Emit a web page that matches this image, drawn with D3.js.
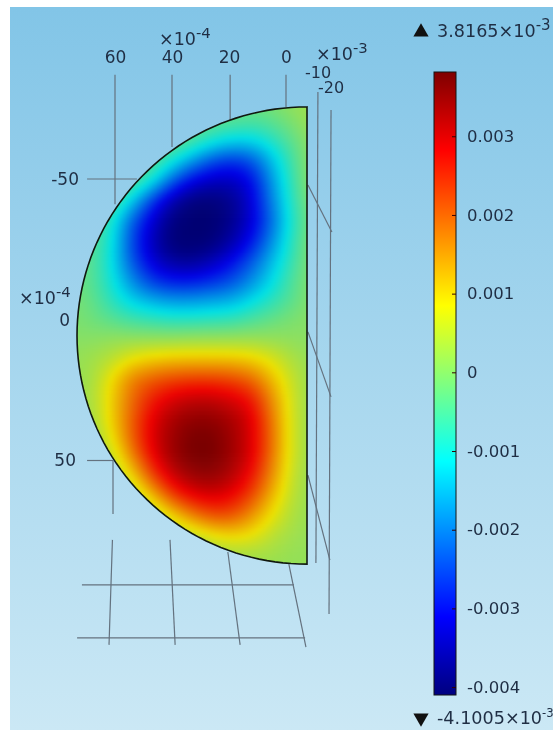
<!DOCTYPE html>
<html>
<head>
<meta charset="utf-8">
<script src="https://cdn.jsdelivr.net/npm/d3@7"></script>
<style>
    html, body { margin: 0; padding: 0; background: #fff; overflow: hidden; }
    text { font-family: "DejaVu Sans", sans-serif; fill: #1f2e44; }
    svg { filter: blur(0.4px); }
</style>
</head>
<body>
<div id="myDataVis"></div>
<script>
const width = 553;
const height = 730;

// axis ticks, x and y are in units of 1e-4, colour bar is the plain value
const xTicks = [60, 40, 20, 0];
const yTicks = [-50, 0, 50];
const zTicks = [-10, -20];
const barTicks = [0.003, 0.002, 0.001, 0, -0.001, -0.002, -0.003, -0.004];
const maxValue = 0.0038165;
const minValue = -0.0041005;

// half disc, centre and radii in axis units
const discX = -7.37;
const discY = 5.6;
const discRx = 80.7;
const discRy = 81.2;

// grid lines of the 3d axis box, in axis units [[x,y],[x,y]]
const gridLines = [
    [[60, -87], [60, -41]],
    [[60.7, 50], [60.7, 69]],
    [[60.9, 78.2], [62.1, 115.5]],
    [[40, -87], [40, -61.4]],
    [[40.7, 78.2], [38.9, 115.5]],
    [[19.6, -87], [19.6, -71]],
    [[20.4, 82.5], [16.1, 115.5]],
    [[0, -87], [0, -75.6]],
    [[-1, 86.8], [-7, 116.3]],
    [[69.8, -50], [52.3, -50]],
    [[69.8, 50], [60.7, 50]],
    [[71.6, 94.2], [-2.8, 94.2]],
    [[73.3, 113], [-6.7, 113]],
    [[-11.2, -80.9], [-10.5, 86.4]],
    [[-15.8, -74.5], [-15.1, 104.5]],
    [[-7.7, -47.9], [-16.1, -31.2]],
    [[-7.7, 4.3], [-15.8, 27.4]],
    [[-7.7, 55.2], [-15.4, 85.4]]
];

// field, in units of 1e-3
const gridX = [75, 68, 61, 54, 47, 40, 33, 26, 19, 12, 5, -2, -9];
const gridY = [-77, -70, -63, -56, -49, -42, -35, -28, -21, -14, -7, 0, 7, 14, 21, 28, 35, 42, 49, 56, 63, 70, 77, 84, 91];
const field = [
    [-.1, -.1, -.1, -.1, -.1, -.1, -.1, -.2, -.2, -.2, -.1, .1, .2],
    [-.1, -.1, -.1, -.1, -.2, -.2, -.2, -.3, -.4, -.5, -.4, -.1, .2],
    [-.1, -.1, -.1, -.2, -.2, -.2, -.5, -1.0, -1.3, -1.3, -.9, -.4, .1],
    [-.1, -.1, -.2, -.2, -.3, -1.0, -1.8, -2.5, -2.8, -2.5, -1.5, -.6, .1],
    [-.1, -.2, -.2, -.3, -1.0, -2.3, -3.2, -3.5, -3.5, -3.1, -1.8, -.7, .1],
    [-.1, -.2, -.3, -1.3, -2.7, -3.7, -4.1, -4.1, -3.9, -3.3, -2.0, -.8, 0],
    [-.2, -.3, -.9, -2.3, -3.3, -4.0, -4.1, -4.1, -3.9, -3.3, -2.2, -.9, -.1],
    [-.2, -.4, -1.0, -2.5, -3.5, -4.1, -4.1, -4.1, -3.7, -3.0, -1.9, -.8, 0],
    [-.2, -.4, -1.1, -2.4, -3.3, -3.8, -3.9, -3.6, -3.1, -2.4, -1.5, -.7, 0],
    [-.2, -.4, -1.0, -1.9, -2.7, -3.0, -3.0, -2.8, -2.5, -1.9, -1.2, -.5, 0],
    [-.1, -.3, -.8, -1.3, -1.6, -1.8, -1.8, -1.7, -1.6, -1.2, -.8, -.4, 0],
    [-.1, -.2, -.4, -.6, -.7, -.8, -.8, -.75, -.7, -.5, -.3, -.1, 0],
    [0, 0, .1, .1, .1, .1, .15, .15, .15, .15, .1, .05, 0],
    [.1, .2, .4, .8, 1.0, 1.1, 1.1, 1.1, 1.1, 1.0, .7, .3, .1],
    [.1, .2, .9, 1.7, 2.0, 2.2, 2.3, 2.3, 2.2, 1.9, 1.2, .5, .1],
    [.1, .3, 1.0, 1.9, 2.6, 3.0, 3.2, 3.2, 3.0, 2.7, 1.6, .6, .1],
    [.1, .2, 1.0, 2.0, 2.9, 3.4, 3.6, 3.6, 3.4, 3.0, 1.8, .6, .1],
    [.1, .1, .8, 2.0, 3.0, 3.5, 3.8, 3.8, 3.5, 3.0, 1.9, .6, .1],
    [.1, .1, .4, 1.6, 2.8, 3.5, 3.8, 3.8, 3.5, 3.0, 1.8, .6, .1],
    [.1, .1, .2, .8, 2.2, 3.1, 3.5, 3.6, 3.3, 2.7, 1.6, .5, .1],
    [.1, .1, .1, .2, 1.0, 2.2, 2.8, 3.0, 2.8, 2.2, 1.2, .4, .1],
    [.1, .1, .1, .1, .2, .8, 1.6, 2.1, 2.1, 1.5, .8, .3, .1],
    [.1, .1, .1, .1, .1, .2, .3, .7, .9, .8, .4, .2, .1],
    [.1, .1, .1, .1, .1, .1, .1, .1, .2, .2, .2, .1, .1],
    [.1, .1, .1, .1, .1, .1, .1, .1, .1, .1, .1, .1, .1]
];

// rainbow colour table, position along the range and colour
const colorStops = [0, 0.125, 0.375, 0.625, 0.875, 1];
const colorList = ['#00007f', '#0000ff', '#00ffff', '#ffff00', '#ff0000', '#7f0000'];

// each field cell is split into this many small cells before d3.blur2
const subCells = 5;

var svg;
var x;
var y;
var color;

document.addEventListener('DOMContentLoaded', function () {
    svg = d3.select('#myDataVis')
        .append('svg')
            .attr('width', width)
            .attr('height', height)
            .style('display', 'block');

    x = d3.scaleLinear().domain([60, 0]).range([115, 286]);
    y = d3.scaleLinear().domain([-50, 50]).range([179, 460.5]);
    color = d3.scaleLinear()
        .domain(colorStops.map(t => minValue + t * (maxValue - minValue)))
        .range(colorList)
        .clamp(true);

    drawBackground();
    drawGridLines();
    drawField();
    drawAxes();
    drawColorBar();
});

function drawBackground() {
    let defs = svg.append('defs');

    let bg = defs.append('linearGradient')
        .attr('id', 'bgGrad')
        .attr('x1', 0).attr('x2', 0).attr('y1', 0).attr('y2', 1);
    bg.append('stop').attr('offset', 0).attr('stop-color', '#82c5e7');
    bg.append('stop').attr('offset', 1).attr('stop-color', '#cbe8f5');

    svg.append('rect')
        .attr('x', 10)
        .attr('y', 7)
        .attr('width', width - 10)
        .attr('height', height - 7)
        .attr('fill', 'url(#bgGrad)');
}

function drawGridLines() {
    let line = d3.line().x(d => x(d[0])).y(d => y(d[1]));

    svg.append('g')
        .selectAll('path')
        .data(gridLines)
        .enter()
        .append('path')
            .attr('d', line)
            .attr('fill', 'none')
            .attr('stroke', '#64727f')
            .attr('stroke-width', 1.2);
}

function drawField() {
    // outline of the half disc, also used to clip the field
    let outline = d3.line()
        .x(a => x(discX + discRx * Math.sin(a)))
        .y(a => y(discY - discRy * Math.cos(a)));
    let discPath = outline(d3.range(0, Math.PI + 0.01, Math.PI / 90)) + 'Z';

    let defs = svg.select('defs');
    defs.append('clipPath').attr('id', 'discClip')
        .append('path').attr('d', discPath);
    let smooth = defs.append('filter')
        .attr('id', 'smooth')
        .attr('filterUnits', 'userSpaceOnUse')
        .attr('color-interpolation-filters', 'sRGB')
        .attr('x', 0).attr('y', 60).attr('width', 400).attr('height', 560);
    smooth.append('feGaussianBlur')
        .attr('stdDeviation', 2);
    // the render in the reference is a bit duller than the colour bar
    smooth.append('feColorMatrix')
        .attr('type', 'matrix')
        .attr('values', '.93 0 0 0 0  0 .88 0 0 0  0 0 .9 0 0  0 0 0 1 0');

    // smooth the values, not the colours, so the bands stay rainbow
    let cols = gridX.length * subCells;
    let rows = gridY.length * subCells;
    let values = new Float64Array(cols * rows);
    for (let r = 0; r < rows; r++) {
        for (let c = 0; c < cols; c++) {
            values[r * cols + c] = field[Math.floor(r / subCells)][Math.floor(c / subCells)];
        }
    }
    d3.blur2({ data: values, width: cols, height: rows }, 2);

    // gridX and gridY step 7 units
    let stepX = 7 / subCells;
    let stepY = 7 / subCells;
    let cellW = Math.abs(x(stepX) - x(0)) + 0.5;
    let cellH = Math.abs(y(stepY) - y(0)) + 0.5;

    let cells = [];
    for (let r = 0; r < rows; r++) {
        for (let c = 0; c < cols; c++) {
            cells.push({
                x: gridX[0] + 3.5 - (c + 0.5) * stepX,
                y: gridY[0] - 3.5 + (r + 0.5) * stepY,
                v: values[r * cols + c] / 1000
            });
        }
    }

    svg.append('g')
        .attr('clip-path', 'url(#discClip)')
        .append('g')
        .attr('filter', 'url(#smooth)')
        .selectAll('rect')
        .data(cells)
        .enter()
        .append('rect')
            .attr('x', d => x(d.x) - cellW / 2)
            .attr('y', d => y(d.y) - cellH / 2)
            .attr('width', cellW)
            .attr('height', cellH)
            .attr('fill', d => color(d.v));

    svg.append('path')
        .attr('d', discPath)
        .attr('fill', 'none')
        .attr('stroke', '#10180f')
        .attr('stroke-width', 1.6);
}

// text like x10^-4, the power is a raised tspan
function powerLabel(px, py, base, power, size, powerScale) {
    let t = svg.append('text')
        .attr('x', px)
        .attr('y', py)
        .attr('font-size', size);
    t.append('tspan').text(base);
    t.append('tspan')
        .text(power)
        .attr('font-size', size * powerScale)
        .attr('dy', -7);
}

function drawAxes() {
    let xAxis = d3.axisTop(x)
        .tickValues(xTicks)
        .tickSize(0)
        .tickPadding(0)
        .tickFormat(d => d);
    let gx = svg.append('g')
        .attr('transform', 'translate(0,62.5)')
        .call(xAxis);
    gx.select('.domain').remove();
    gx.selectAll('text').attr('font-size', 17).style('fill', '#1f2e44');

    let yAxis = d3.axisLeft(y)
        .tickValues(yTicks)
        .tickSize(0)
        .tickPadding(0)
        .tickFormat(d => d);
    let gy = svg.append('g')
        .attr('transform', 'translate(79,0)')
        .call(yAxis);
    gy.select('.domain').remove();
    gy.selectAll('text').attr('font-size', 17);
    gy.selectAll('.tick').filter(d => d === 0).select('text').attr('x', -9);
    gy.selectAll('.tick').filter(d => d === 50).select('text').attr('x', -3);

    // depth axis labels sit on a slant
    let zx = d3.scaleLinear().domain([-10, -20]).range([318, 331]);
    let zy = d3.scaleLinear().domain([-10, -20]).range([78, 93]);
    svg.append('g')
        .selectAll('text')
        .data(zTicks)
        .enter()
        .append('text')
            .text(d => d)
            .attr('x', d => zx(d))
            .attr('y', d => zy(d))
            .attr('text-anchor', 'middle')
            .attr('font-size', 16);

    powerLabel(159, 45, '\u00d710', '-4', 17.5, 0.85);
    powerLabel(316, 60, '\u00d710', '-3', 17.5, 0.85);
    powerLabel(19, 304, '\u00d710', '-4', 17.5, 0.85);
}

function drawColorBar() {
    let barY = d3.scaleLinear().domain([minValue, maxValue]).range([695, 72]);

    let grad = svg.select('defs').append('linearGradient')
        .attr('id', 'barGrad')
        .attr('x1', 0).attr('x2', 0).attr('y1', 1).attr('y2', 0);
    grad.selectAll('stop')
        .data(colorStops)
        .enter()
        .append('stop')
            .attr('offset', (d, i) => d)
            .attr('stop-color', (d, i) => colorList[i]);

    svg.append('rect')
        .attr('x', 434)
        .attr('y', barY(maxValue))
        .attr('width', 22)
        .attr('height', barY(minValue) - barY(maxValue))
        .attr('fill', 'url(#barGrad)')
        .attr('stroke', '#141414')
        .attr('stroke-width', 1);

    let barAxis = d3.axisRight(barY)
        .tickValues(barTicks)
        .tickSizeInner(-4)
        .tickSizeOuter(0)
        .tickPadding(11)
        .tickFormat(d => d === 0 ? '0' : d.toFixed(3));
    let gBar = svg.append('g')
        .attr('transform', 'translate(456,0)')
        .call(barAxis);
    gBar.select('.domain').remove();
    gBar.selectAll('line').attr('stroke', '#300');
    gBar.selectAll('text')
        .attr('font-size', 16.5);

    // max and min markers
    let marker = d3.symbol().type(d3.symbolTriangle).size(100);
    svg.append('path')
        .attr('d', marker)
        .attr('transform', `translate(421,${barY(maxValue) - 40})`)
        .attr('fill', '#111');
    svg.append('path')
        .attr('d', marker)
        .attr('transform', `translate(421,${barY(minValue) + 23}) rotate(180)`)
        .attr('fill', '#111');

    powerLabel(437, 37, '3.8165\u00d710', '-3', 17.6, 0.85);
    powerLabel(437, 724, '-4.1005\u00d710', '-3', 17.6, 0.66);
}
</script>
</body>
</html>
